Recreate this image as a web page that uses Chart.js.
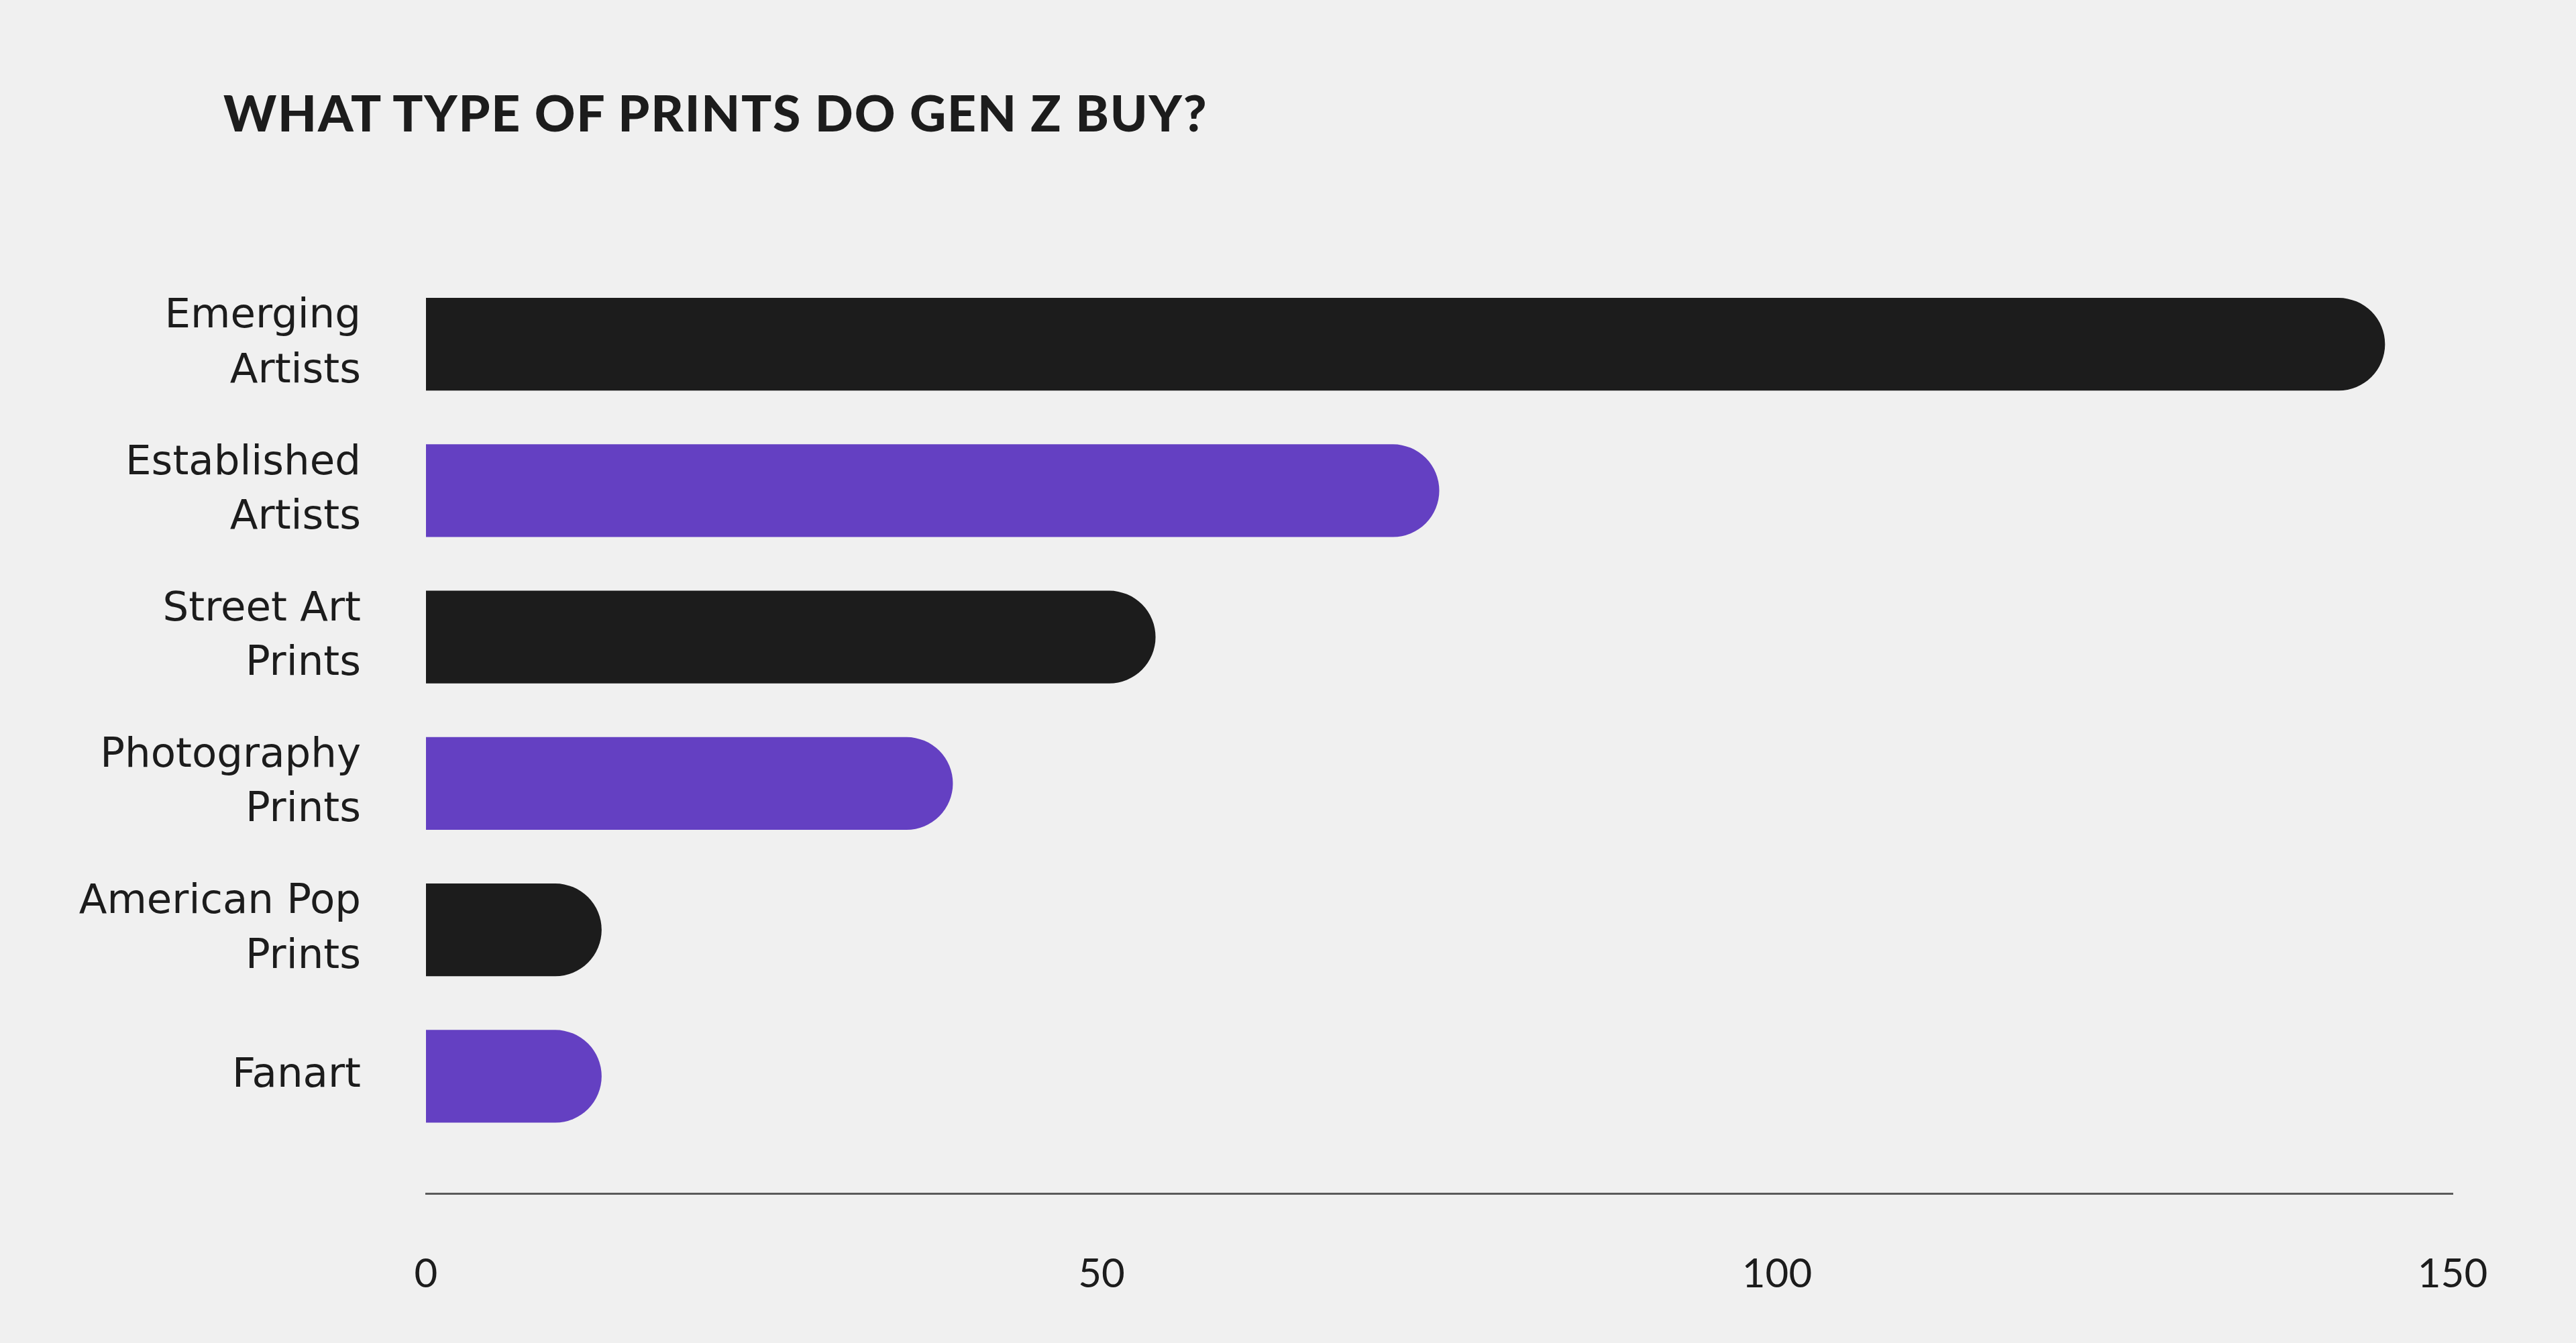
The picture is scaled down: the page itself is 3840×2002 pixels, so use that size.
<!DOCTYPE html>
<html>
<head>
<meta charset="utf-8">
<title>What type of prints do Gen Z buy?</title>
<script src="https://cdn.jsdelivr.net/npm/chart.js@4.4.1/dist/chart.umd.min.js"></script>
<style>
  html, body { margin: 0; padding: 0; background: #f0f0f0; }
  #wrap { width: 3840px; height: 2002px; position: relative; }
  #wrap h1 {
    position: absolute; left: 333px; top: 130px; margin: 0;
    font-family: Lato, sans-serif; font-weight: 900; font-size: 75px;
    line-height: 1; letter-spacing: 1.8px; color: #1c1c1c;
  }
</style>
</head>
<body>
<div id="wrap">
  <canvas id="prints-chart"></canvas>
  <h1>WHAT TYPE OF PRINTS DO GEN Z BUY?</h1>
</div>
<script>
// values
var categories = ['Emerging Artists', 'Established Artists', 'Street Art Prints', 'Photography Prints', 'American Pop Prints', 'Fanart'];
var buyers = [145, 75, 54, 39, 13, 13];
var xTicks = [0, 50, 100, 150];
var barColors = ['#1c1c1c', '#6440c2'];

var ink = '#1c1c1c';

// break a label before its last word, like the original
function splitLabel(label) {
  var cut = label.lastIndexOf(' ');
  if (cut < 0) return label;
  return [label.slice(0, cut), label.slice(cut + 1)];
}

var points = buyers.map(function (v, i) { return { x: v, y: i }; });

var ctx = document.getElementById('prints-chart').getContext('2d');
var printsChart = new Chart(ctx, {
  type: 'bar',
  data: {
    datasets: [{
      data: points,
      backgroundColor: categories.map(function (c, i) { return barColors[i % 2]; }),
      borderWidth: 0,
      borderSkipped: 'start',
      borderRadius: 999,
      categoryPercentage: 0.633,
      barPercentage: 1
    }]
  },
  options: {
    indexAxis: 'y',
    responsive: true,
    maintainAspectRatio: false,
    devicePixelRatio: 1,
    animation: false,
    layout: {
      padding: { left: 0, right: 184, top: 404, bottom: 66 }
    },
    plugins: {
      legend: { display: false },
      tooltip: { enabled: false },
      title: { display: false }
    },
    scales: {
      x: {
        type: 'linear',
        min: 0,
        max: 150,
        afterBuildTicks: function (scale) {
          scale.ticks = xTicks.map(function (v) { return { value: v }; });
        },
        afterFit: function (scale) {
          scale.height = 157;
        },
        grid: { display: false, drawTicks: false },
        border: { display: true, color: '#5a5a5a', width: 3 },
        ticks: {
          color: ink,
          padding: 85,
          maxRotation: 0,
          font: { family: 'Lato', size: 60, weight: '400', lineHeight: 1.2 }
        }
      },
      y: {
        type: 'linear',
        reverse: true,
        offset: false,
        min: -0.5,
        max: 5.8,
        afterBuildTicks: function (scale) {
          scale.ticks = categories.map(function (c, i) { return { value: i }; });
        },
        afterFit: function (scale) {
          scale.width = 635;
          scale.paddingTop = 0;
          scale.paddingBottom = 0;
        },
        grid: { display: false, drawTicks: false },
        border: { display: false },
        ticks: {
          color: ink,
          padding: 97,
          font: { family: 'DejaVu Sans', size: 61, weight: '400', lineHeight: 1.33 },
          callback: function (value) {
            return categories[value] !== undefined ? splitLabel(categories[value]) : '';
          }
        }
      }
    }
  }
});
</script>
</body>
</html>
